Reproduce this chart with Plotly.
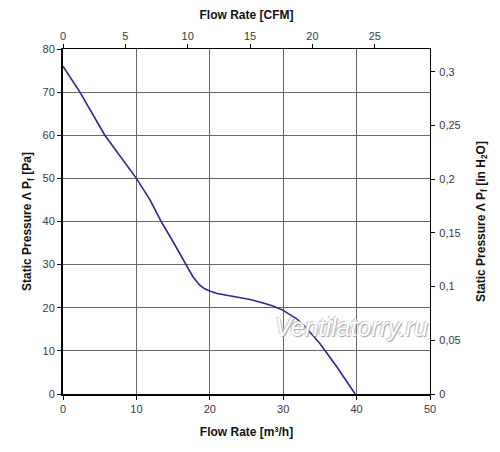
import plotly.graph_objects as go

# Data
flow_m3h = [0, 2.3, 5.7, 10, 11.85, 13.4, 15.0, 16.8, 17.7, 18.6, 19.3, 20, 21, 22.3, 25.5, 27.5, 28.6, 30, 31.8, 33, 35, 37.3, 39.8]
pressure_pa = [76, 70, 60, 50, 45, 39.9, 35.3, 30.1, 27.2, 25.3, 24.4, 23.9, 23.3, 22.9, 21.9, 21.0, 20.4, 19.4, 17.5, 15.6, 11.7, 6.3, 0]

M3H_PER_CFM = 1.699
PA_PER_INH2O = 249.09

cfm_ticks = [0, 5, 10, 15, 20, 25]
inh2o_ticks = [0, 0.05, 0.1, 0.15, 0.2, 0.25, 0.3]
m3h_ticks = [0, 10, 20, 30, 40, 50]
pa_ticks = [0, 10, 20, 30, 40, 50, 60, 70, 80]

X_MAX = 50
Y_MAX = 80

line_color = "#27279a"
font_family = "Liberation Sans, Arial, sans-serif"
tick_font = dict(family=font_family, size=11, color="#3a3a3a")
title_font = dict(family=font_family, size=12, color="#111111")

fig = go.Figure()
fig.add_trace(go.Scatter(
    x=flow_m3h, y=pressure_pa, mode="lines",
    line=dict(color=line_color, width=1.6),
    xaxis="x", yaxis="y", hoverinfo="skip", showlegend=False,
))
fig.add_trace(go.Scatter(
    x=[v / M3H_PER_CFM for v in flow_m3h],
    y=[v / PA_PER_INH2O for v in pressure_pa],
    mode="lines", line=dict(color=line_color, width=1.6),
    xaxis="x2", yaxis="y2", hoverinfo="skip", showlegend=False, opacity=0,
))

fig.update_layout(
    width=492, height=444,
    margin=dict(l=55, r=70, t=41, b=58),
    paper_bgcolor="white", plot_bgcolor="white",
    separators=", ",
    font=dict(family=font_family),
    xaxis=dict(
        range=[0, X_MAX], tickvals=m3h_ticks, showgrid=True, gridcolor="#666666", gridwidth=1,
        showline=True, linecolor="black", linewidth=2, ticks="outside", ticklen=4, tickcolor="black",
        tickfont=tick_font, zeroline=False, automargin=False,
        title=dict(text="<b>Flow Rate [m³/h]</b>", font=title_font, standoff=13),
    ),
    yaxis=dict(
        range=[0, Y_MAX], tickvals=pa_ticks, showgrid=True, gridcolor="#666666", gridwidth=1,
        showline=True, linecolor="black", linewidth=2, ticks="outside", ticklen=4, tickcolor="black",
        tickfont=tick_font, zeroline=False, automargin=False,
        title=dict(text="<b>Static Pressure Λ P<sub>f</sub> [Pa]</b>", font=title_font, standoff=8),
    ),
    xaxis2=dict(
        range=[0, X_MAX / M3H_PER_CFM], tickvals=cfm_ticks, overlaying="x", side="top",
        showgrid=False, showline=True, linecolor="black", linewidth=1.2,
        ticks="outside", ticklen=4, tickcolor="black", tickfont=tick_font, zeroline=False,
        automargin=False,
        title=dict(text="<b>Flow Rate [CFM]</b>", font=title_font, standoff=11),
    ),
    yaxis2=dict(
        range=[0, Y_MAX / PA_PER_INH2O], tickvals=inh2o_ticks, overlaying="y", side="right",
        showgrid=False, showline=True, linecolor="black", linewidth=1.2,
        ticks="outside", ticklen=4, tickcolor="black", tickfont=tick_font, zeroline=False,
        tickformat="~g", ticklabelstandoff=2, automargin=False,
        title=dict(text="<b>Static Pressure Λ P<sub>f</sub> [in H<sub>2</sub>O]</b>", font=title_font, standoff=16),
    ),
    annotations=[dict(
        text="<i>Ventilatorry.ru</i>", x=0.787, y=0.194, xref="paper", yref="paper",
        xanchor="center", yanchor="middle", showarrow=False,
        font=dict(family=font_family, size=25, color="white",
                  shadow="1px 1px 1px #a0a0a0, -1px -1px 1px #c8c8c8"),
    )],
)

fig.write_html("out.html")
